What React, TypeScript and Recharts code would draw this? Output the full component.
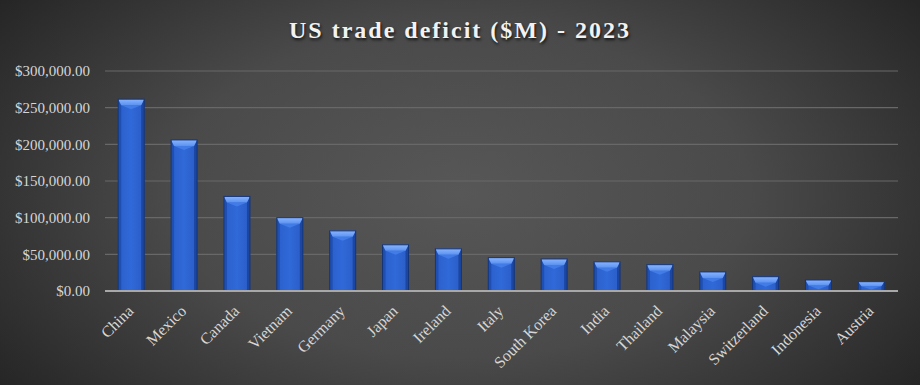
import React from 'react';
import { BarChart, Bar, XAxis, YAxis, CartesianGrid } from 'recharts';

const countries = [
  'China', 'Mexico', 'Canada', 'Vietnam', 'Germany', 'Japan', 'Ireland', 'Italy',
  'South Korea', 'India', 'Thailand', 'Malaysia', 'Switzerland', 'Indonesia', 'Austria',
];
const deficits = [
  261600, 206000, 129000, 100000, 82000, 63000, 57500, 45500,
  43700, 39800, 35900, 26000, 19500, 15000, 12700,
];
const yTicks = [0, 50000, 100000, 150000, 200000, 250000, 300000];

const data = countries.map((name, i) => ({ name, value: deficits[i] }));

const SERIF = '"Liberation Serif", "DejaVu Serif", serif';

const fmtMoney = (v: number) =>
  '$' + v.toLocaleString('en-US', { minimumFractionDigits: 2, maximumFractionDigits: 2 });

// bevelled blue bar, like the office "preset" look
const BevelBar = (props: any) => {
  const { x, y, width, height } = props;
  if (!height || height <= 0) return null;
  const b = Math.min(6, height / 2);
  const s = Math.min(3, width / 6);
  return (
    <g>
      <rect x={x} y={y} width={width} height={height} fill="url(#barBody)" />
      <polygon
        points={`${x},${y} ${x + s},${y + b} ${x + s},${y + height} ${x},${y + height}`}
        fill="#1f4fb0"
      />
      <polygon
        points={`${x + width},${y} ${x + width - s},${y + b} ${x + width - s},${y + height} ${x + width},${y + height}`}
        fill="#1c46a0"
      />
      <polygon
        points={`${x},${y} ${x + width},${y} ${x + width - s},${y + b} ${x + s},${y + b}`}
        fill="url(#barTop)"
      />
      <polygon
        points={`${x + s},${y + b} ${x + width - s},${y + b} ${x + width / 2},${y + b + Math.min(4, height / 3)}`}
        fill="#4a85ee"
        opacity={0.7}
      />
      <rect x={x} y={y} width={width} height={height} fill="none" stroke="#143578" strokeWidth={1} />
    </g>
  );
};

const XTick = (props: any) => {
  const { x, y, payload } = props;
  const tx = x + 3;
  const ty = y + 13;
  return (
    <text
      x={tx}
      y={ty}
      transform={`rotate(-45, ${tx}, ${ty})`}
      textAnchor="end"
      fontFamily={SERIF}
      fontSize={16}
      fill="#d6d6d6"
    >
      {payload.value}
    </text>
  );
};

const App: React.FC = () => {
  return (
    <div
      style={{
        position: 'absolute',
        left: 0,
        top: 0,
        width: 920,
        height: 385,
        background:
          'radial-gradient(ellipse 70% 95% at 50% 50%, #575757 0%, #4a4a4a 45%, #313131 75%, #1c1c1c 100%)',
      }}
    >
      <style>{'body{margin:0}'}</style>
      <div
        style={{
          position: 'absolute',
          left: 0,
          top: 17,
          width: 920,
          textAlign: 'center',
          fontFamily: SERIF,
          fontWeight: 'bold',
          fontSize: 24,
          letterSpacing: 2,
          color: '#f2f2f2',
          textShadow: '1px 2px 3px rgba(0,0,0,0.75)',
        }}
      >
        US trade deficit ($M) - 2023
      </div>
      <BarChart
        width={920}
        height={385}
        data={data}
        margin={{ top: 71, right: 22, bottom: 4, left: 0 }}
        barCategoryGap="25%"
      >
        <defs>
          <linearGradient id="barBody" x1="0" y1="0" x2="1" y2="0">
            <stop offset="0%" stopColor="#2a5fcc" />
            <stop offset="50%" stopColor="#3069d8" />
            <stop offset="100%" stopColor="#2a5cc6" />
          </linearGradient>
          <linearGradient id="barTop" x1="0" y1="0" x2="0" y2="1">
            <stop offset="0%" stopColor="#8ab5ff" />
            <stop offset="100%" stopColor="#5b92f0" />
          </linearGradient>
        </defs>
        <CartesianGrid vertical={false} stroke="#686868" strokeWidth={1.2} />
        <XAxis
          dataKey="name"
          interval={0}
          height={90}
          tickLine={false}
          axisLine={{ stroke: '#a8a8a8', strokeWidth: 2 }}
          tick={<XTick />}
        />
        <YAxis
          width={105}
          domain={[0, 300000]}
          ticks={yTicks}
          tickFormatter={fmtMoney}
          axisLine={false}
          tickLine={false}
          tickMargin={9}
          tick={{ fontFamily: SERIF, fontSize: 15, fill: '#d6d6d6' }}
        />
        <Bar dataKey="value" shape={<BevelBar />} isAnimationActive={false} />
      </BarChart>
    </div>
  );
};

export default App;
